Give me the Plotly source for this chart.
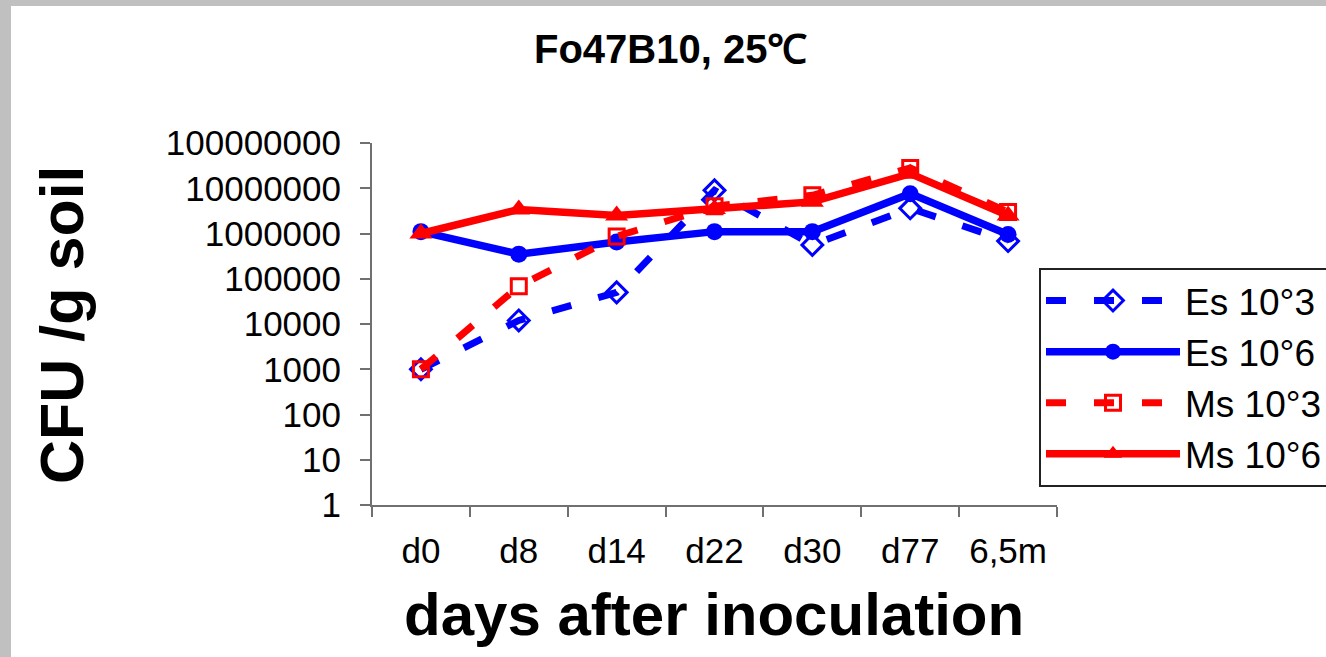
import plotly.graph_objects as go

W, H = 1326, 657

categories = ["d0", "d8", "d14", "d22", "d30", "d77", "6,5m"]
es_1e3 = [1000, 12000, 50000, 9000000, 560000, 3600000, 680000]
es_1e6 = [1100000, 350000, 650000, 1100000, 1100000, 7600000, 950000]
ms_1e3 = [1000, 68000, 860000, 4000000, 7000000, 28000000, 3000000]
ms_1e6 = [1000000, 3400000, 2500000, 3500000, 5000000, 21000000, 2500000]
y_tickvals = [1, 10, 100, 1000, 10000, 100000, 1000000, 10000000, 100000000]
y_ticktext = ["1", "10", "100", "1000", "10000", "100000", "1000000", "10000000", "100000000"]
series_names = ["Es 10°3", "Es 10°6", "Ms 10°3", "Ms 10°6"]

BLUE = "#0000FF"
RED = "#FF0000"
FONT = "Liberation Sans, Arial, sans-serif"
DASH = "20px,28px"

fig = go.Figure()
fig.add_trace(go.Scatter(
    x=categories, y=es_1e3, name=series_names[0], mode="lines+markers",
    line=dict(color=BLUE, width=7, dash=DASH),
    marker=dict(symbol="diamond-open", size=16, color=BLUE, line=dict(width=3, color=BLUE)),
))
fig.add_trace(go.Scatter(
    x=categories, y=es_1e6, name=series_names[1], mode="lines+markers",
    line=dict(color=BLUE, width=7.5),
    marker=dict(symbol="circle", size=17, color=BLUE),
))
fig.add_trace(go.Scatter(
    x=categories, y=ms_1e3, name=series_names[2], mode="lines+markers",
    line=dict(color=RED, width=7, dash=DASH),
    marker=dict(symbol="square-open", size=15, color=RED, line=dict(width=3, color=RED)),
))
fig.add_trace(go.Scatter(
    x=categories, y=ms_1e6, name=series_names[3], mode="lines+markers",
    line=dict(color=RED, width=7.5),
    marker=dict(symbol="triangle-up", size=20, color=RED),
))

x0, x1 = 372 / W, 1057 / W
y0, y1 = 1 - 505 / H, 1 - 143 / H

fig.update_layout(
    width=W, height=H,
    margin=dict(l=0, r=0, t=0, b=0, autoexpand=False),
    paper_bgcolor="white", plot_bgcolor="white",
    font=dict(family=FONT, color="black"),
    showlegend=True,
    legend=dict(
        x=1039 / W, y=1 - 268 / H, xanchor="left", yanchor="top",
        bgcolor="white", bordercolor="#222222", borderwidth=2,
        font=dict(size=37, family=FONT, color="black"),
        itemwidth=134, tracegroupgap=0,
    ),
    xaxis=dict(
        domain=[x0, x1], type="category", range=[-0.5, 6.5],
        tickson="boundaries", ticks="outside", ticklen=10, tickwidth=1.5, tickcolor="#707070",
        showline=True, linecolor="#707070", linewidth=2, showgrid=False, zeroline=False,
        tickfont=dict(size=35, family=FONT), ticklabelstandoff=14,
    ),
    yaxis=dict(
        domain=[y0, y1], type="log", range=[0, 8],
        tickvals=y_tickvals, ticktext=y_ticktext,
        ticks="outside", ticklen=10, tickwidth=1.5, tickcolor="#707070",
        showline=True, linecolor="#707070", linewidth=2, showgrid=False, zeroline=False,
        tickfont=dict(size=35, family=FONT), ticklabelstandoff=12,
    ),
    shapes=[
        dict(type="rect", xref="paper", yref="paper", x0=0, x1=11 / W, y0=0, y1=1,
             fillcolor="#c0c0c0", line=dict(width=0), layer="below"),
        dict(type="rect", xref="paper", yref="paper", x0=0, x1=1, y0=1 - 6 / H, y1=1,
             fillcolor="#c0c0c0", line=dict(width=0), layer="below"),
    ],
    annotations=[
        dict(text="<b>Fo47B10, 25℃</b>", x=670 / W, y=1 - 49 / H, xref="paper", yref="paper",
             xanchor="center", yanchor="middle", showarrow=False,
             font=dict(size=40, family=FONT, color="black")),
        dict(text="<b>days after inoculation</b>", x=714 / W, y=1 - 614 / H, xref="paper", yref="paper",
             xanchor="center", yanchor="middle", showarrow=False,
             font=dict(size=60, family=FONT, color="black")),
        dict(text="<b>CFU /g soil</b>", x=62 / W, y=1 - 325 / H, xref="paper", yref="paper",
             xanchor="center", yanchor="middle", showarrow=False, textangle=-90,
             font=dict(size=61, family=FONT, color="black")),
    ],
)

fig.write_html(
    "out.html",
    config={"displayModeBar": False},
    post_script="document.body.style.margin='0';document.body.style.overflow='hidden';",
)
